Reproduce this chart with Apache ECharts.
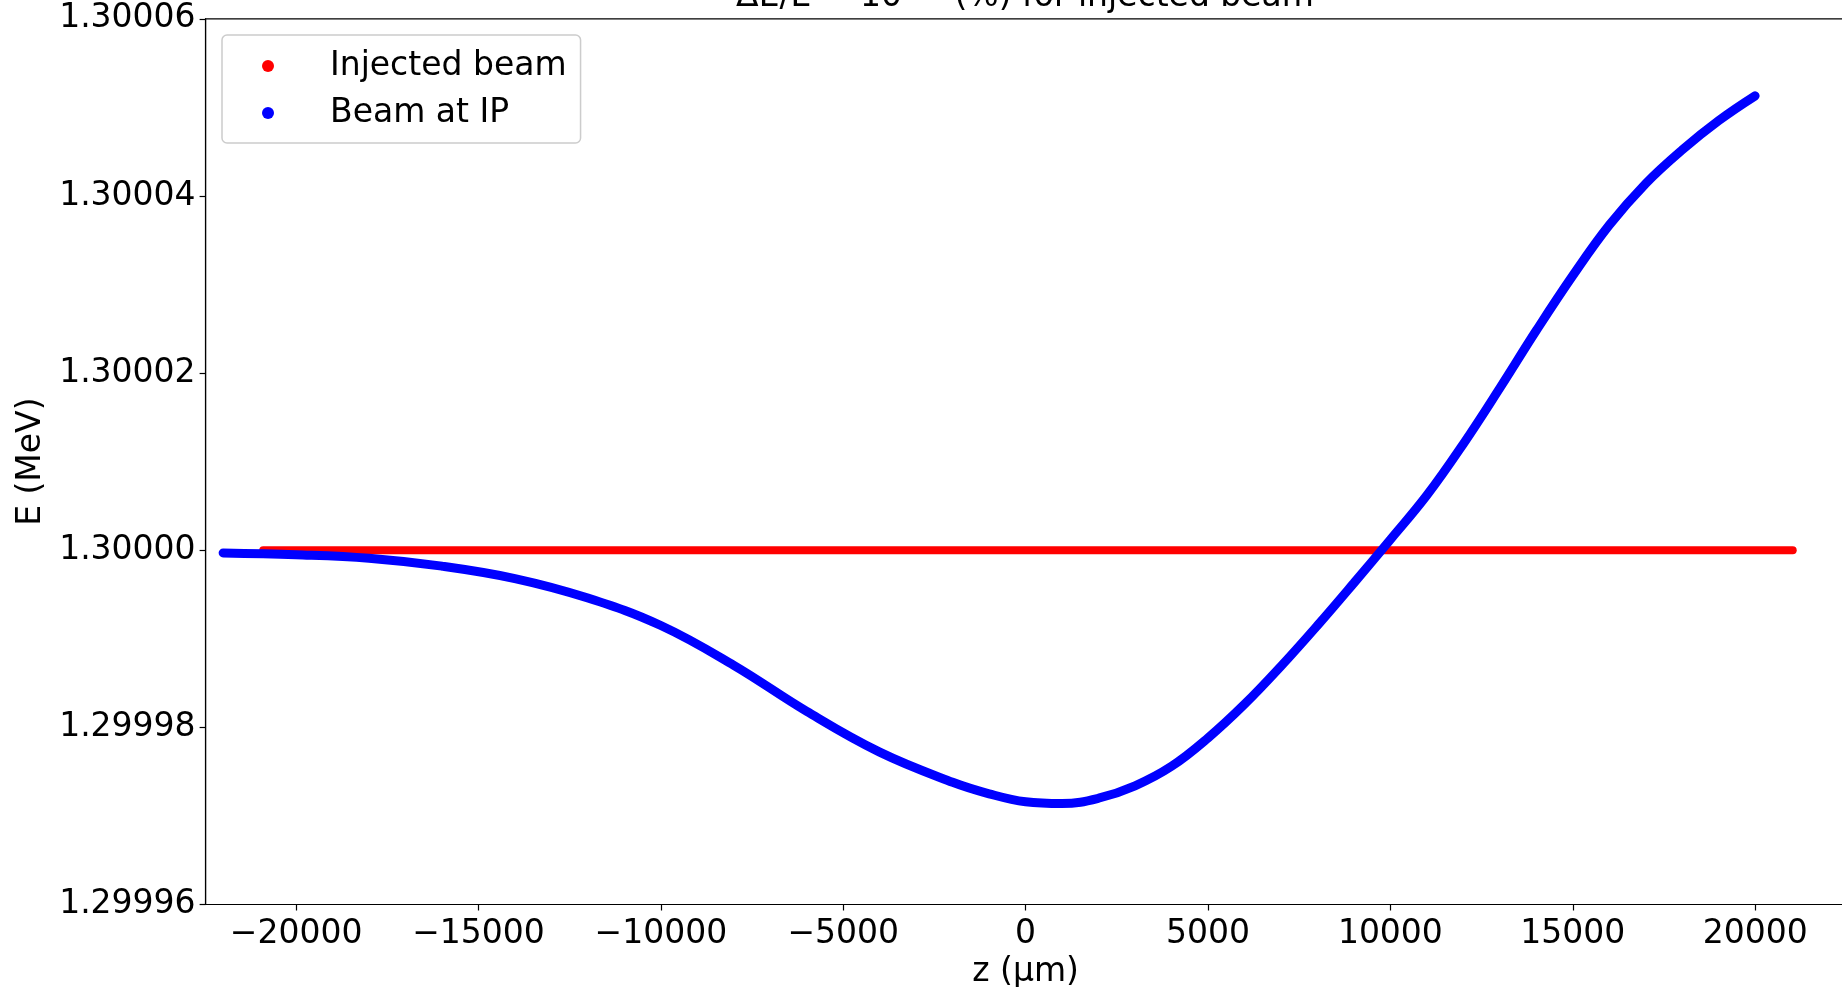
<!DOCTYPE html>
<html>
<head>
<meta charset="utf-8">
<script src="https://cdn.jsdelivr.net/npm/echarts@6/dist/echarts.min.js"></script>
<style>
  html, body { margin: 0; padding: 0; background: #fff; }
  #chart { width: 1842px; height: 987px; }
</style>
</head>
<body>
<div id="chart"></div>
<script>
// values
const zTicks = [-20000, -15000, -10000, -5000, 0, 5000, 10000, 15000, 20000];
const eTicks = [1.29996, 1.29998, 1.30000, 1.30002, 1.30004, 1.30006];

const zInjected = [-20900, 21030];
const eInjected = [1.30000, 1.30000];

const zIP = [-22000, -20000, -18000, -16000, -14000, -12000, -10000, -8000, -6000, -4000,
  -2000, -1000, 0, 1000, 2000, 3000, 4000, 5000, 6000, 7000,
  8000, 9000, 10000, 11000, 12000, 13000, 14000, 15000, 16000, 17000,
  18000, 19000, 20000];
const eIP = [1.2999997, 1.2999995, 1.2999991, 1.2999982, 1.2999968, 1.2999946, 1.2999915, 1.2999870, 1.2999818, 1.2999772,
  1.2999738, 1.2999725, 1.2999716, 1.2999714, 1.2999720, 1.2999734, 1.2999756, 1.2999788, 1.2999826, 1.2999869,
  1.2999915, 1.2999963, 1.3000012, 1.3000062, 1.3000120, 1.3000183, 1.3000248, 1.3000310, 1.3000367, 1.3000414,
  1.3000452, 1.3000485, 1.3000513];

const pairs = (xs, ys) => xs.map((x, i) => [x, ys[i]]);

const font = 'DejaVu Sans';
const chart = echarts.init(document.getElementById('chart'));

const option = {
  animation: false,
  backgroundColor: '#fff',
  title: {
    text: '{b|ΔE/E = 10}{s|−5}{b| (%) for injected beam}',
    left: 1025,
    top: -19,
    padding: 0,
    textAlign: 'center',
    textStyle: {
      fontFamily: font, fontSize: 33, fontWeight: 'normal', color: '#000',
      rich: {
        b: { fontFamily: font, fontSize: 33, lineHeight: 33, color: '#000', verticalAlign: 'bottom' },
        s: { fontFamily: font, fontSize: 23, lineHeight: 23, color: '#000', verticalAlign: 'top', padding: [0, 6, 24, 2] }
      }
    }
  },
  legend: {
    orient: 'vertical',
    left: 222,
    top: 35,
    padding: [11, 14, 10, 40],
    itemGap: 7,
    itemWidth: 12,
    itemHeight: 12,
    borderColor: '#cccccc',
    borderWidth: 1.5,
    borderRadius: 5,
    backgroundColor: 'rgba(255,255,255,0.8)',
    textStyle: { fontFamily: font, fontSize: 33, color: '#000', lineHeight: 40, padding: [0, 0, 0, 51] },
    data: [
      { name: 'Injected beam', icon: 'circle' },
      { name: 'Beam at IP', icon: 'circle' }
    ]
  },
  grid: {
    left: 205.6,
    top: 18.8,
    width: 1640,
    height: 885.7,
    containLabel: false,
    outerBoundsMode: 'none',
    show: true,
    borderColor: '#000',
    borderWidth: 1.2,
    backgroundColor: 'transparent'
  },
  xAxis: {
    type: 'value',
    min: -22480,
    max: 22480,
    name: 'z (μm)',
    nameLocation: 'middle',
    nameGap: 51,
    nameTextStyle: { fontFamily: font, fontSize: 33, color: '#000' },
    axisLine: { show: true, onZero: false, lineStyle: { color: '#000', width: 1.2 } },
    axisTick: { show: true, customValues: zTicks, length: 6, inside: false, lineStyle: { color: '#000', width: 1.2 } },
    axisLabel: {
      customValues: zTicks,
      margin: 13,
      fontFamily: font,
      fontSize: 33,
      color: '#000',
      formatter: v => (v < 0 ? '−' + Math.abs(v) : String(v))
    },
    splitLine: { show: false }
  },
  yAxis: {
    type: 'value',
    min: 1.29996,
    max: 1.30006,
    name: 'E (MeV)',
    nameLocation: 'middle',
    nameGap: 157,
    nameRotate: 90,
    nameTextStyle: { fontFamily: font, fontSize: 33, color: '#000' },
    axisLine: { show: true, onZero: false, lineStyle: { color: '#000', width: 1.2 } },
    axisTick: { show: true, customValues: eTicks, length: 6, inside: false, lineStyle: { color: '#000', width: 1.2 } },
    axisLabel: {
      customValues: eTicks,
      margin: 10,
      fontFamily: font,
      fontSize: 33,
      color: '#000',
      formatter: v => v.toFixed(5)
    },
    splitLine: { show: false }
  },
  series: [
    {
      name: 'Injected beam',
      type: 'line',
      data: pairs(zInjected, eInjected),
      symbol: 'none',
      color: '#ff0000',
      lineStyle: { color: '#ff0000', width: 8, cap: 'round' },
      z: 2
    },
    {
      name: 'Beam at IP',
      type: 'line',
      data: pairs(zIP, eIP),
      smooth: 0.4,
      symbol: 'none',
      color: '#0000ff',
      lineStyle: { color: '#0000ff', width: 9, cap: 'round' },
      z: 3
    }
  ]
};

chart.setOption(option);
</script>
</body>
</html>
